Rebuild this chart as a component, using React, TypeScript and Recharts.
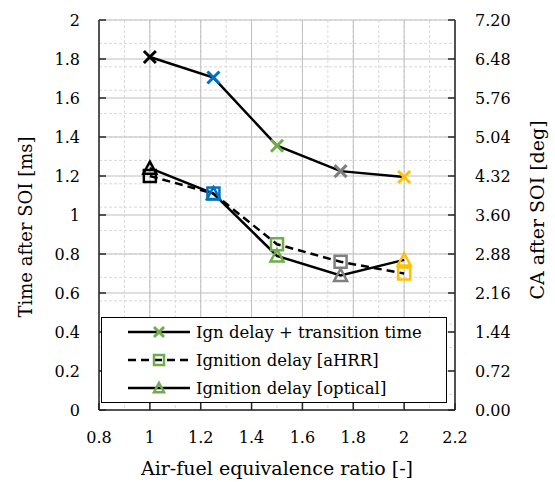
import React from 'react';
import { LineChart, Line, XAxis, YAxis, CartesianGrid, Legend } from 'recharts';

// ---- data ----
const phi = [1, 1.25, 1.5, 1.75, 2];
const ignPlusTransition = [1.81, 1.705, 1.355, 1.225, 1.195];
const ignAHRR = [1.2, 1.11, 0.85, 0.76, 0.7];
const ignOptical = [1.24, 1.11, 0.79, 0.69, 0.77];
const pointColors = ['#000000', '#0070C0', '#70AD47', '#7F7F7F', '#FFC000'];

const xTicks = [0.8, 1, 1.2, 1.4, 1.6, 1.8, 2, 2.2];
const yTicks = [0, 0.2, 0.4, 0.6, 0.8, 1, 1.2, 1.4, 1.6, 1.8, 2];
const rightTicks = [0, 0.72, 1.44, 2.16, 2.88, 3.6, 4.32, 5.04, 5.76, 6.48, 7.2];
const xMinorTicks = Array.from({ length: 29 }, (_, i) => +(0.8 + i * 0.05).toFixed(2));
const yMinorTicks = Array.from({ length: 51 }, (_, i) => +(i * 0.04).toFixed(2));

const seriesNames = ['Ign delay + transition time', 'Ignition delay [aHRR]', 'Ignition delay [optical]'];
const xTitle = 'Air-fuel equivalence ratio [-]';
const yTitle = 'Time after SOI [ms]';
const y2Title = 'CA after SOI [deg]';
const legendColor = '#70AD47';

const data = phi.map((p, i) => ({
  phi: p,
  trans: ignPlusTransition[i],
  ahrr: ignAHRR[i],
  optical: ignOptical[i],
}));

const FONT = '"DejaVu Serif", serif';
const tickStyle = { fontFamily: FONT, fontSize: 16, fill: '#000' };

const Cross = ({ cx, cy, color, r = 6 }: any) => (
  <g>
    <line x1={cx - r} y1={cy - r} x2={cx + r} y2={cy + r} stroke={color} strokeWidth={3} />
    <line x1={cx - r} y1={cy + r} x2={cx + r} y2={cy - r} stroke={color} strokeWidth={3} />
  </g>
);
const Square = ({ cx, cy, color, r = 6 }: any) => (
  <rect x={cx - r} y={cy - r} width={2 * r} height={2 * r} fill="none" stroke={color} strokeWidth={2.5} />
);
const Triangle = ({ cx, cy, color, r = 6.5 }: any) => (
  <polygon
    points={`${cx},${cy - r} ${cx + r},${cy + r * 0.85} ${cx - r},${cy + r * 0.85}`}
    fill="none"
    stroke={color}
    strokeWidth={2.5}
  />
);

const crossDot = (props: any) => (
  <Cross key={`c${props.index}`} cx={props.cx} cy={props.cy} color={pointColors[props.index]} />
);
const squareDot = (props: any) => (
  <Square key={`s${props.index}`} cx={props.cx} cy={props.cy} color={pointColors[props.index]} />
);
const triDot = (props: any) => (
  <Triangle key={`t${props.index}`} cx={props.cx} cy={props.cy} color={pointColors[props.index]} />
);

const LegendBox = () => {
  const rows = [
    { name: seriesNames[0], dash: undefined, Mark: Cross },
    { name: seriesNames[1], dash: '8 5', Mark: Square },
    { name: seriesNames[2], dash: undefined, Mark: Triangle },
  ];
  return (
    <div
      style={{
        width: '100%',
        height: '100%',
        boxSizing: 'border-box',
        border: '1.5px solid #000',
        background: '#fff',
        paddingTop: 0,
        paddingLeft: 25,
      }}
    >
      {rows.map((r, i) => (
        <div key={i} style={{ display: 'flex', alignItems: 'center', height: 28 }}>
          <svg width={66} height={20} style={{ display: 'block' }}>
            <line x1={1} y1={10} x2={63} y2={10} stroke="#000" strokeWidth={2.5} strokeDasharray={r.dash} />
            <r.Mark cx={32} cy={10} color={legendColor} r={5} />
          </svg>
          <span style={{ fontFamily: FONT, fontSize: 16.5, color: '#000', marginLeft: 3, whiteSpace: 'nowrap' }}>
            {r.name}
          </span>
        </div>
      ))}
    </div>
  );
};

const titleStyle = { fontFamily: FONT, fill: '#000' };

const LeftTitle = ({ viewBox }: any) => {
  const cx = viewBox.x + 25;
  const cy = viewBox.y + viewBox.height / 2 + 12;
  return (
    <text
      x={cx}
      y={cy}
      transform={`rotate(-90 ${cx} ${cy})`}
      textAnchor="middle"
      dominantBaseline="central"
      fontSize={18}
      {...titleStyle}
    >
      {yTitle}
    </text>
  );
};
const RightTitle = ({ viewBox }: any) => {
  const cx = viewBox.x + viewBox.width - 18;
  const cy = viewBox.y + viewBox.height / 2 - 5;
  return (
    <text
      x={cx}
      y={cy}
      transform={`rotate(-90 ${cx} ${cy})`}
      textAnchor="middle"
      dominantBaseline="central"
      fontSize={19}
      {...titleStyle}
    >
      {y2Title}
    </text>
  );
};
const BottomTitle = ({ viewBox }: any) => (
  <text
    x={viewBox.x + viewBox.width / 2}
    y={viewBox.y + viewBox.height - 7}
    textAnchor="middle"
    fontSize={19}
    {...titleStyle}
  >
    {xTitle}
  </text>
);

export default function App() {
  return (
    <div style={{ position: 'absolute', left: 0, top: 0, background: '#fff' }}>
      <LineChart width={555} height={482} data={data} margin={{ top: 20, right: 0, bottom: 0, left: 0 }}>
        <XAxis
          xAxisId="minor"
          type="number"
          dataKey="phi"
          domain={[0.8, 2.2]}
          ticks={xMinorTicks}
          allowDataOverflow
          hide
        />
        <YAxis yAxisId="minor" type="number" domain={[0, 2]} ticks={yMinorTicks} allowDataOverflow hide />
        <CartesianGrid
          xAxisId="minor"
          yAxisId="minor"
          stroke="#d9d9d9"
          strokeDasharray="3 2"
          strokeWidth={1}
        />
        <CartesianGrid stroke="#bfbfbf" strokeWidth={1} />
        <XAxis
          type="number"
          dataKey="phi"
          domain={[0.8, 2.2]}
          ticks={xTicks}
          allowDataOverflow
          height={72}
          tickSize={-7}
          tickMargin={29}
          tick={tickStyle}
          axisLine={{ stroke: '#262626', strokeWidth: 1.5 }}
          tickLine={{ stroke: '#262626', strokeWidth: 1.5 }}
          label={{ content: BottomTitle }}
        />
        <YAxis
          type="number"
          domain={[0, 2]}
          ticks={yTicks}
          allowDataOverflow
          width={99}
          tickSize={-7}
          tickMargin={26}
          tick={tickStyle}
          axisLine={{ stroke: '#262626', strokeWidth: 1.5 }}
          tickLine={{ stroke: '#262626', strokeWidth: 1.5 }}
          label={{ content: LeftTitle }}
        />
        <YAxis
          yAxisId="right"
          orientation="right"
          type="number"
          domain={[0, 7.2]}
          ticks={rightTicks}
          allowDataOverflow
          width={100}
          tickSize={-7}
          tickMargin={27}
          tick={tickStyle}
          tickFormatter={(v: number) => v.toFixed(2)}
          axisLine={{ stroke: '#262626', strokeWidth: 1.5 }}
          tickLine={{ stroke: '#262626', strokeWidth: 1.5 }}
          label={{ content: RightTitle }}
        />
        <Line
          dataKey="optical"
          name={seriesNames[2]}
          stroke="#000"
          strokeWidth={2.5}
          dot={triDot}
          isAnimationActive={false}
        />
        <Line
          dataKey="ahrr"
          name={seriesNames[1]}
          stroke="#000"
          strokeWidth={2.5}
          strokeDasharray="8 5"
          dot={squareDot}
          isAnimationActive={false}
        />
        <Line
          dataKey="trans"
          name={seriesNames[0]}
          stroke="#000"
          strokeWidth={2.5}
          dot={crossDot}
          isAnimationActive={false}
        />
        <Legend
          layout="vertical"
          align="center"
          verticalAlign="middle"
          content={() => <LegendBox />}
          wrapperStyle={{ left: 101, top: 317, width: 346, height: 86 }}
        />
      </LineChart>
    </div>
  );
}
